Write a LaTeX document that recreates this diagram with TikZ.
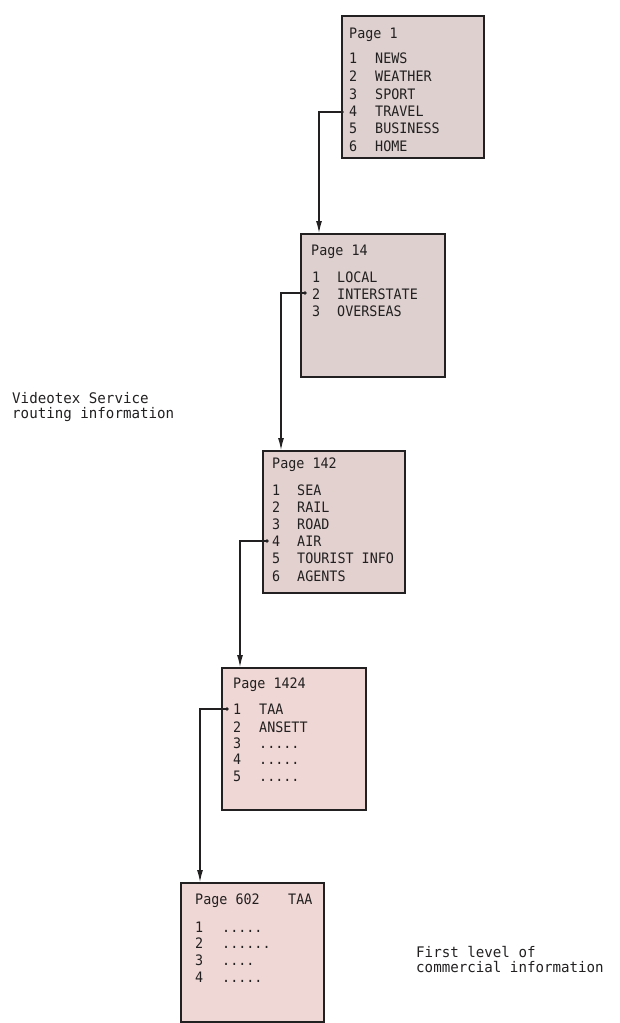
\documentclass[tikz,border=0pt]{standalone}
\usepackage{fontspec}
\usetikzlibrary{arrows.meta,calc}
\newfontfamily\vt[FakeStretch=0.93]{DejaVu Sans Mono}
\newfontfamily\vtl[FakeStretch=0.97]{DejaVu Sans Mono}
\definecolor{fillA}{HTML}{DDD0CF}
\definecolor{fillB}{HTML}{E3D1D0}
\definecolor{fillC}{HTML}{EFD7D5}
\definecolor{inkc}{HTML}{222020}
\tikzset{
  pagebox/.style={draw=inkc, line width=1.6pt, anchor=north west, inner sep=0pt},
  txt/.style={anchor=base west, inner sep=0pt, font=\vt\fontsize{14.4}{16}\selectfont, text=inkc},
  lbl/.style={anchor=base west, inner sep=0pt, font=\vtl\fontsize{14.6}{16}\selectfont, text=inkc},
  conn/.style={draw=inkc, line width=1.1pt, -{Latex[length=12pt,width=6pt]}},
  dotc/.style={fill=inkc, circle, inner sep=0pt, minimum size=3.8pt}
}
\begin{document}
\begin{tikzpicture}[x=1pt,y=-1pt]
\useasboundingbox (0,0) rectangle (619,1023);
\fill[white] (0,0) rectangle (619,1023);

% boxes
\node[pagebox, fill=fillA, minimum width=142pt, minimum height=142pt] (b1) at (341,15) {};
\node[pagebox, fill=fillA, minimum width=144pt, minimum height=143pt] (b14) at (300,233) {};
\node[pagebox, fill=fillB, minimum width=142pt, minimum height=142pt] (b142) at (262,450) {};
\node[pagebox, fill=fillC, minimum width=144pt, minimum height=142pt] (b1424) at (221,667) {};
\node[pagebox, fill=fillC, minimum width=143pt, minimum height=139pt] (b602) at (180,882) {};

% Page 1
\node[txt] (t1h) at (349,38) {Page 1};
\node[txt] (t1n1) at (349,63) {1}; \node[txt] (t1l1) at (375,63) {NEWS};
\node[txt] (t1n2) at (349,81) {2}; \node[txt] (t1l2) at (375,81) {WEATHER};
\node[txt] (t1n3) at (349,99) {3}; \node[txt] (t1l3) at (375,99) {SPORT};
\node[txt] (t1n4) at (349,116) {4}; \node[txt] (t1l4) at (375,116) {TRAVEL};
\node[txt] (t1n5) at (349,133) {5}; \node[txt] (t1l5) at (375,133) {BUSINESS};
\node[txt] (t1n6) at (349,151) {6}; \node[txt] (t1l6) at (375,151) {HOME};

% Page 14
\node[txt] (t2h) at (311,255) {Page 14};
\node[txt] (t2n1) at (312,282) {1}; \node[txt] (t2l1) at (337,282) {LOCAL};
\node[txt] (t2n2) at (312,299) {2}; \node[txt] (t2l2) at (337,299) {INTERSTATE};
\node[txt] (t2n3) at (312,316) {3}; \node[txt] (t2l3) at (337,316) {OVERSEAS};

% Page 142
\node[txt] (t3h) at (272,468) {Page 142};
\node[txt] (t3n1) at (272,495) {1}; \node[txt] (t3l1) at (297,495) {SEA};
\node[txt] (t3n2) at (272,512) {2}; \node[txt] (t3l2) at (297,512) {RAIL};
\node[txt] (t3n3) at (272,529) {3}; \node[txt] (t3l3) at (297,529) {ROAD};
\node[txt] (t3n4) at (272,546) {4}; \node[txt] (t3l4) at (297,546) {AIR};
\node[txt] (t3n5) at (272,563) {5}; \node[txt] (t3l5) at (297,563) {TOURIST INFO};
\node[txt] (t3n6) at (272,581) {6}; \node[txt] (t3l6) at (297,581) {AGENTS};

% Page 1424
\node[txt] (t4h) at (233,688) {Page 1424};
\node[txt] (t4n1) at (233,714) {1}; \node[txt] (t4l1) at (259,714) {TAA};
\node[txt] (t4n2) at (233,732) {2}; \node[txt] (t4l2) at (259,732) {ANSETT};
\node[txt] (t4n3) at (233,748) {3}; \node[txt] (t4l3) at (259,748) {.....};
\node[txt] (t4n4) at (233,764) {4}; \node[txt] (t4l4) at (259,764) {.....};
\node[txt] (t4n5) at (233,781) {5}; \node[txt] (t4l5) at (259,781) {.....};

% Page 602
\node[txt] (t5h) at (195,904) {Page 602};
\node[txt] (t5t) at (288,904) {TAA};
\node[txt] (t5n1) at (195,932) {1}; \node[txt] (t5l1) at (222,932) {.....};
\node[txt] (t5n2) at (195,948) {2}; \node[txt] (t5l2) at (222,948) {......};
\node[txt] (t5n3) at (195,965) {3}; \node[txt] (t5l3) at (222,965) {....};
\node[txt] (t5n4) at (195,982) {4}; \node[txt] (t5l4) at (222,982) {.....};

% side labels
\node[lbl] (la1) at (12,403) {Videotex Service};
\node[lbl] (la2) at (12,418) {routing information};
\node[lbl] (lb1) at (416,957) {First level of};
\node[lbl] (lb2) at (416,972) {commercial information};

% connector anchor points
\coordinate (d1) at (342,112);
\coordinate (d2) at (305,293);
\coordinate (d3) at (267,541);
\coordinate (d4) at (227,709);
\coordinate (a14) at ($(b14.north west)+(19,0)$);
\coordinate (a142) at ($(b142.north west)+(19,0)$);
\coordinate (a1424) at ($(b1424.north west)+(19,0)$);
\coordinate (a602) at ($(b602.north west)+(20,0)$);

\draw[conn] (d1) -| (a14);
\draw[conn] (d2) -| (a142);
\draw[conn] (d3) -| (a1424);
\draw[conn] (d4) -| (a602);
\node[dotc] (c1) at (d1) {};
\node[dotc] (c2) at (d2) {};
\node[dotc] (c3) at (d3) {};
\node[dotc] (c4) at (d4) {};
\end{tikzpicture}
\end{document}
